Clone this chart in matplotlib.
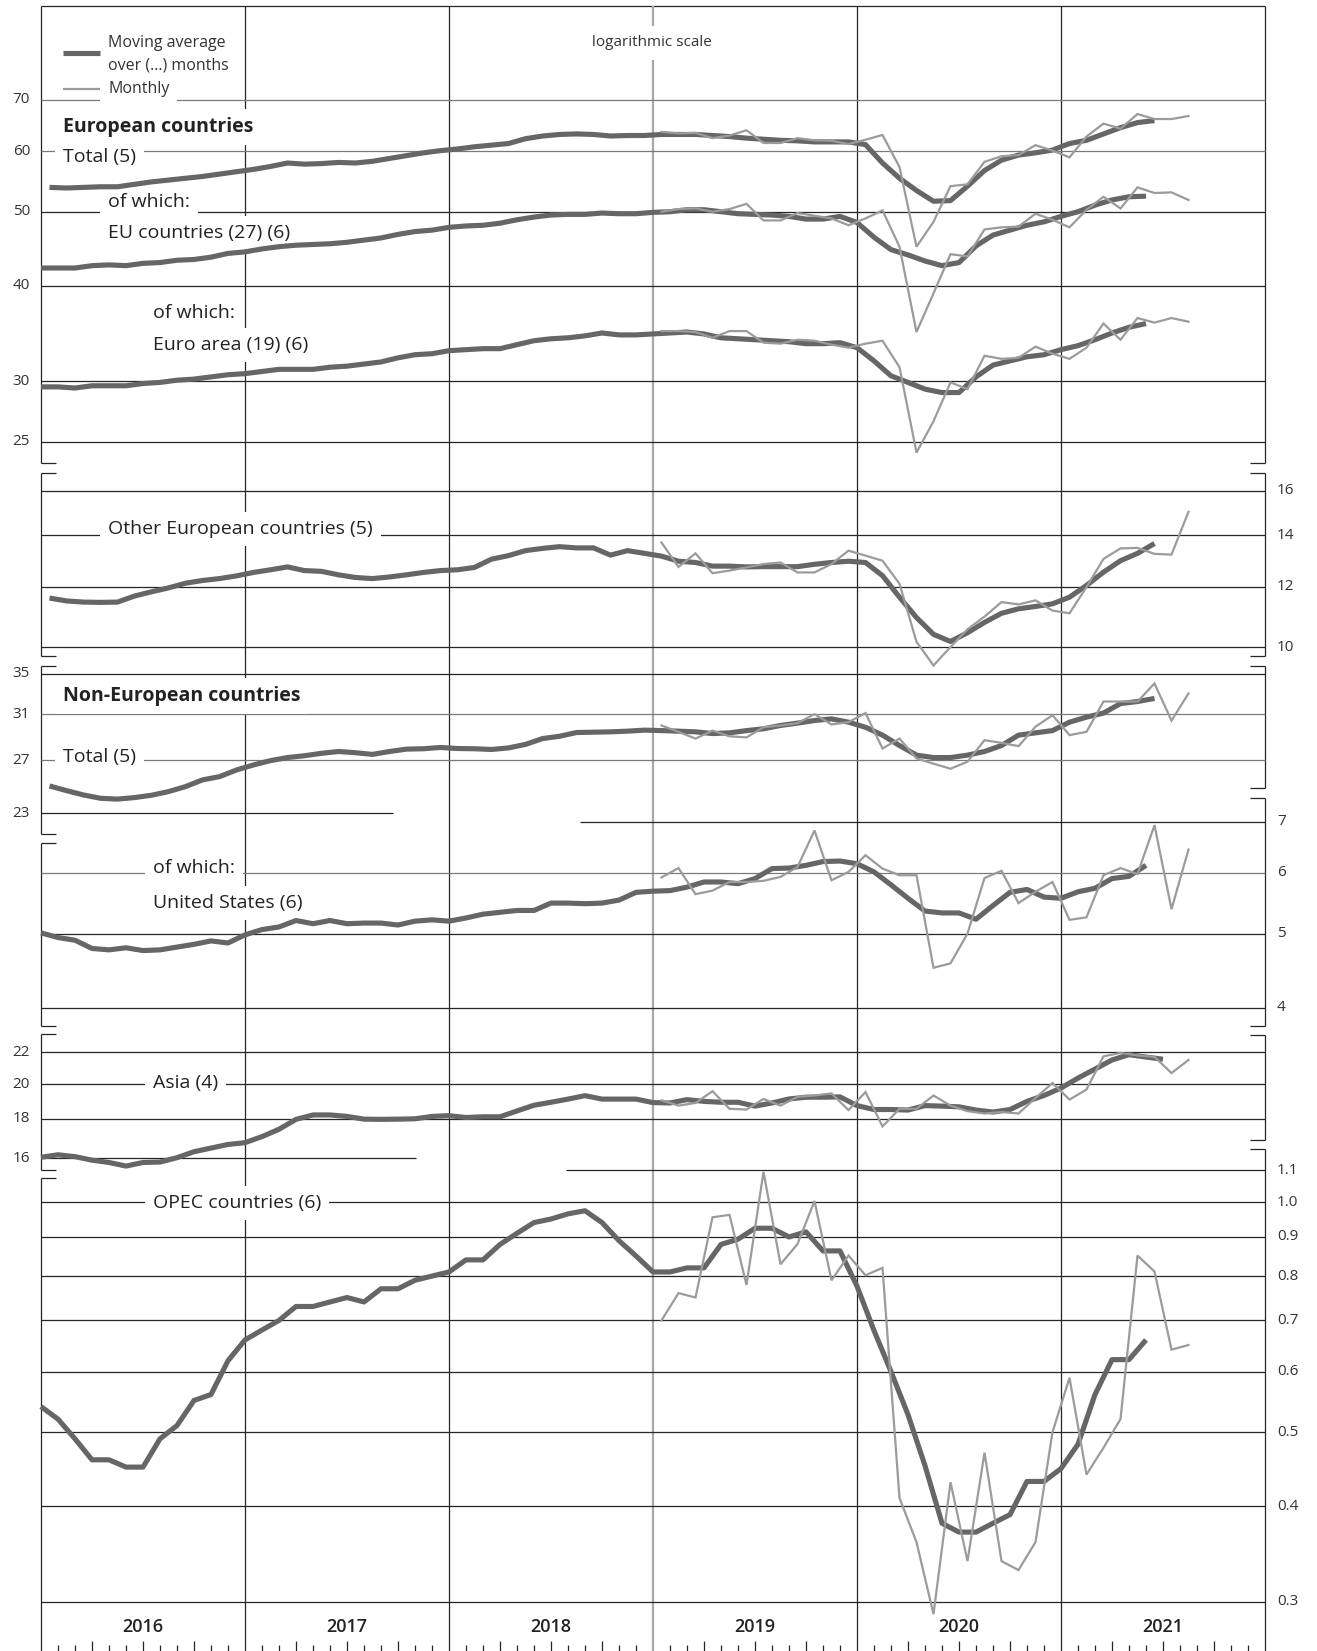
import numpy as np
import matplotlib
matplotlib.use("Agg")
import matplotlib.pyplot as plt
from matplotlib.transforms import blended_transform_factory

plt.rcParams['font.family'] = ['Open Sans', 'DejaVu Sans']

# ---------------- data ----------------
YEARS = ["2016", "2017", "2018", "2019", "2020", "2021"]

# European countries, total: moving average over 5 months (Jan 2016 - Jun 2021)
EUR_TOTAL_MA = [53.8, 53.7, 53.8, 53.9, 53.9, 54.3, 54.7, 55.0, 55.3, 55.6, 56.0, 56.4,
                56.8, 57.3, 57.9, 57.7, 57.8, 58.0, 57.9, 58.2, 58.7, 59.2, 59.7, 60.1,
                60.4, 60.8, 61.1, 61.4, 62.3, 62.8, 63.1, 63.2, 63.1, 62.8, 62.9, 62.9,
                63.1, 63.1, 63.1, 62.9, 62.7, 62.4, 62.2, 62.0, 61.9, 61.7, 61.7, 61.7,
                61.2, 57.9, 55.3, 53.3, 51.6, 51.7, 54.0, 56.6, 58.4, 59.3, 59.7, 60.2,
                61.4, 62.0, 63.2, 64.4, 65.4, 65.8]
# monthly values Jan 2019 - Aug 2021
EUR_TOTAL_M = [63.6, 63.3, 63.4, 62.4, 62.9, 63.9, 61.5, 61.5, 62.4, 62.0, 61.9, 61.3,
               62.1, 63.0, 57.2, 45.0, 48.5, 54.0, 54.3, 58.1, 59.1, 59.3, 61.1, 60.1,
               58.9, 62.7, 65.2, 64.2, 67.1, 66.1, 66.1, 66.7]

# EU countries (27): moving average over 6 months
EU_MA = [42.2, 42.2, 42.2, 42.5, 42.6, 42.5, 42.8, 42.9, 43.2, 43.3, 43.6, 44.1,
         44.3, 44.7, 45.0, 45.2, 45.3, 45.4, 45.6, 45.9, 46.2, 46.7, 47.1, 47.3,
         47.7, 47.9, 48.0, 48.3, 48.8, 49.2, 49.5, 49.6, 49.6, 49.8, 49.7, 49.7,
         49.9, 50.0, 50.3, 50.3, 50.0, 49.7, 49.6, 49.5, 49.3, 48.9, 48.9, 49.3,
         48.4, 46.3, 44.6, 43.9, 43.1, 42.5, 42.9, 45.1, 46.6, 47.3, 48.0, 48.5,
         49.3, 50.0, 51.0, 51.8, 52.3, 52.4]
EU_M = [50.0, 50.4, 50.5, 50.0, 50.4, 51.2, 48.7, 48.7, 49.8, 49.4, 49.0, 48.0,
        49.0, 50.2, 45.0, 34.8, 39.1, 44.0, 43.7, 47.4, 47.7, 47.8, 49.7, 48.8,
        47.7, 50.3, 52.3, 50.5, 53.8, 52.9, 53.0, 51.8]

# Euro area (19): moving average over 6 months
EA_MA = [29.5, 29.5, 29.4, 29.6, 29.6, 29.6, 29.8, 29.9, 30.1, 30.2, 30.4, 30.6,
         30.7, 30.9, 31.1, 31.1, 31.1, 31.3, 31.4, 31.6, 31.8, 32.2, 32.5, 32.6,
         32.9, 33.0, 33.1, 33.1, 33.5, 33.9, 34.1, 34.2, 34.4, 34.7, 34.5, 34.5,
         34.6, 34.7, 34.8, 34.6, 34.2, 34.1, 34.0, 33.9, 33.8, 33.6, 33.6, 33.7,
         33.2, 31.9, 30.5, 29.9, 29.3, 29.0, 29.0, 30.4, 31.5, 31.9, 32.3, 32.5,
         33.0, 33.4, 34.0, 34.7, 35.3, 35.7]
EA_M = [34.9, 34.9, 34.8, 34.2, 34.9, 34.9, 33.7, 33.6, 34.0, 33.9, 33.5, 33.2,
        33.6, 33.9, 31.3, 24.2, 26.6, 29.9, 29.3, 32.4, 32.1, 32.2, 33.3, 32.6,
        32.1, 33.2, 35.7, 34.0, 36.3, 35.8, 36.3, 35.9]

# Other European countries: moving average over 5 months
OTH_MA = [11.59, 11.49, 11.45, 11.44, 11.45, 11.66, 11.81, 11.95, 12.12, 12.22, 12.29, 12.39,
          12.52, 12.62, 12.73, 12.59, 12.56, 12.43, 12.33, 12.29, 12.35, 12.43, 12.52, 12.59,
          12.62, 12.71, 13.03, 13.17, 13.37, 13.46, 13.53, 13.48, 13.48, 13.19, 13.37, 13.26,
          13.15, 12.95, 12.90, 12.76, 12.76, 12.73, 12.74, 12.74, 12.74, 12.83, 12.90, 12.95,
          12.90, 12.40, 11.62, 10.93, 10.39, 10.17, 10.44, 10.77, 11.07, 11.22, 11.30, 11.39,
          11.62, 12.04, 12.53, 12.97, 13.26, 13.66]
OTH_M = [13.70, 12.73, 13.26, 12.49, 12.59, 12.71, 12.84, 12.90, 12.52, 12.52, 12.84, 13.37,
         13.17, 12.97, 12.10, 10.16, 9.46, 10.00, 10.55, 10.96, 11.45, 11.37, 11.51, 11.16,
         11.07, 11.98, 13.04, 13.46, 13.48, 13.24, 13.21, 15.03]

# Non-European countries, total: moving average over 5 months
NEU_MA = [24.97, 24.62, 24.30, 24.06, 24.00, 24.11, 24.28, 24.55, 24.92, 25.43, 25.68, 26.20,
          26.60, 26.95, 27.20, 27.35, 27.55, 27.70, 27.60, 27.46, 27.70, 27.90, 27.93, 28.04,
          27.95, 27.93, 27.87, 28.00, 28.30, 28.80, 29.00, 29.33, 29.36, 29.39, 29.45, 29.54,
          29.50, 29.45, 29.39, 29.24, 29.30, 29.50, 29.66, 29.96, 30.17, 30.41, 30.56, 30.26,
          29.80, 29.10, 28.20, 27.40, 27.20, 27.20, 27.40, 27.70, 28.20, 29.10, 29.30, 29.50,
          30.26, 30.72, 31.10, 32.00, 32.20, 32.50]
NEU_M = [29.96, 29.39, 28.80, 29.50, 29.00, 28.90, 29.80, 29.96, 30.17, 31.00, 30.05, 30.26,
         31.10, 27.95, 28.80, 27.13, 26.70, 26.30, 26.86, 28.66, 28.43, 28.15, 29.85, 30.90,
         29.10, 29.39, 32.20, 32.20, 32.20, 34.00, 30.40, 33.00]

# United States: moving average over 6 months
US_MA = [5.01, 4.94, 4.90, 4.78, 4.76, 4.79, 4.75, 4.76, 4.80, 4.84, 4.89, 4.86,
         4.98, 5.06, 5.10, 5.20, 5.15, 5.20, 5.15, 5.16, 5.16, 5.13, 5.19, 5.21,
         5.19, 5.24, 5.30, 5.33, 5.36, 5.36, 5.48, 5.48, 5.47, 5.48, 5.53, 5.66,
         5.68, 5.69, 5.75, 5.84, 5.84, 5.81, 5.90, 6.08, 6.09, 6.14, 6.21, 6.22,
         6.17, 6.02, 5.79, 5.56, 5.35, 5.32, 5.32, 5.22, 5.44, 5.66, 5.71, 5.58,
         5.56, 5.67, 5.73, 5.90, 5.94, 6.14]
US_M = [5.92, 6.09, 5.63, 5.69, 5.84, 5.84, 5.86, 5.93, 6.11, 6.82, 5.87, 6.02,
        6.33, 6.08, 5.96, 5.96, 4.51, 4.57, 5.00, 5.91, 6.04, 5.48, 5.67, 5.84,
        5.21, 5.25, 5.96, 6.09, 5.98, 6.93, 5.38, 6.44]

# Asia: moving average over 4 months
ASIA_MA = [16.04, 16.16, 16.07, 15.90, 15.79, 15.62, 15.79, 15.81, 16.02, 16.31, 16.49, 16.67,
           16.76, 17.07, 17.45, 17.98, 18.22, 18.22, 18.14, 17.99, 17.98, 17.99, 18.01, 18.14,
           18.18, 18.08, 18.12, 18.12, 18.44, 18.76, 18.93, 19.11, 19.31, 19.11, 19.11, 19.11,
           18.91, 18.89, 19.08, 18.98, 18.93, 18.93, 18.71, 18.89, 19.12, 19.22, 19.22, 19.24,
           18.74, 18.52, 18.52, 18.49, 18.74, 18.71, 18.67, 18.49, 18.38, 18.52, 18.98, 19.32,
           19.76, 20.36, 20.92, 21.50, 21.85, 21.69, 21.55]
ASIA_M = [19.04, 18.74, 18.89, 19.57, 18.56, 18.52, 19.12, 18.74, 19.24, 19.32, 19.44, 18.49,
          19.52, 17.60, 18.56, 18.56, 19.32, 18.74, 18.43, 18.30, 18.38, 18.30, 19.17, 20.06,
          19.08, 19.67, 21.74, 21.96, 21.80, 21.70, 20.67, 21.50]

# OPEC countries: moving average over 6 months
OPEC_MA = [0.54, 0.52, 0.49, 0.46, 0.46, 0.45, 0.45, 0.49, 0.51, 0.55, 0.56, 0.62,
           0.66, 0.68, 0.70, 0.73, 0.73, 0.74, 0.75, 0.74, 0.77, 0.77, 0.79, 0.80,
           0.81, 0.84, 0.84, 0.88, 0.91, 0.94, 0.95, 0.965, 0.974, 0.94, 0.89, 0.85,
           0.81, 0.81, 0.82, 0.82, 0.88, 0.894, 0.924, 0.924, 0.90, 0.914, 0.863, 0.863,
           0.776, 0.679, 0.60, 0.527, 0.452, 0.38, 0.37, 0.37, 0.38, 0.39, 0.431, 0.431,
           0.448, 0.482, 0.56, 0.622, 0.622, 0.66]
OPEC_M = [0.70, 0.76, 0.75, 0.955, 0.962, 0.779, 1.095, 0.829, 0.881, 1.003, 0.790, 0.851,
          0.802, 0.820, 0.410, 0.359, 0.289, 0.430, 0.339, 0.470, 0.339, 0.330, 0.359, 0.500,
          0.589, 0.440, 0.477, 0.520, 0.851, 0.811, 0.641, 0.650]

MONTHLY_START = 36          # Jan 2019 (months since Jan 2016)

# ---------------- layout ----------------
W, H = 1317, 1651
fig = plt.figure(figsize=(W / 100, H / 100), dpi=100)
X0, X1 = 41, 1265          # plot area in pixels
Y_TOP, Y_BOT = 6, 1601
K = 332.0                  # pixels per unit of ln(value)
PX_PER_MONTH = (X1 - X0) / 72.0

GRID = '#262626'
GREYLINE = '#7a7a7a'
MA_C = '#666666'
MON_C = '#9b9b9b'
TXT = '#222222'

ov = fig.add_axes([0, 0, 1, 1], zorder=0)
ov.set_xlim(0, W)
ov.set_ylim(H, 0)
ov.axis('off')

rect = [X0 / W, 1 - Y_BOT / H, (X1 - X0) / W, (Y_BOT - Y_TOP) / H]


def panel(ref_val, ref_px, z):
    ax = fig.add_axes(rect, zorder=z)
    ax.set_yscale('log')
    ax.set_xlim(0, 72)
    ax.set_ylim(ref_val * np.exp(-(Y_BOT - ref_px) / K),
                ref_val * np.exp((ref_px - Y_TOP) / K))
    ax.axis('off')
    ax.patch.set_visible(False)
    return ax


def mth(px):
    return (px - X0) / PX_PER_MONTH


def grid(ax, specs):
    for v, a, b, c in specs:
        ax.hlines(v, a, b, colors=c, lw=0.9, zorder=1, clip_on=False)


def ticklabels(ax, vals, labels, side):
    tr = blended_transform_factory(ov.transData, ax.transData)
    for v, s in zip(vals, labels):
        if side == 'left':
            ax.text(30, v, s, transform=tr, ha='right', va='center', fontsize=11, color='#333333')
        else:
            ax.text(1277, v, s, transform=tr, ha='left', va='center', fontsize=11, color='#333333')


def label(ax, x, y, s, bold=False, size=14):
    ax.text(x, y, s, transform=ov.transData, ha='left', va='center', fontsize=size,
            color=TXT, fontweight='bold' if bold else 'normal', zorder=2,
            bbox=dict(boxstyle='square,pad=0.42', fc='white', ec='none'))


def series(ax, ma, offset, monthly):
    xm = np.arange(len(ma)) + offset
    ax.plot(xm, ma, color=MA_C, lw=3.7, zorder=4, clip_on=False,
            solid_joinstyle='round', solid_capstyle='butt')
    if monthly is not None:
        xk = np.arange(len(monthly)) + MONTHLY_START + 0.5
        ax.plot(xk, monthly, color=MON_C, lw=1.6, zorder=5, clip_on=False,
                solid_joinstyle='miter')


# ---------------- overlay: frame, year lines, ticks ----------------
ov.hlines(Y_TOP, X0, X1, colors=GRID, lw=0.9)
left_segs = [(Y_TOP, 463), (473, 656), (666, 834), (843, 1026), (1034, 1170), (1178, H)]
right_segs = [(Y_TOP, 463), (473, 656), (666, 788), (798, 1026), (1035, 1140), (1149, H)]
for (a, b) in left_segs:
    ov.vlines(X0, a, b, colors=GRID, lw=0.9)
for (a, b) in right_segs:
    ov.vlines(X1, a, b, colors=GRID, lw=0.9)
for (a, b) in left_segs:
    if a != Y_TOP:
        ov.hlines(a, X0, X0 + 15, colors=GRID, lw=0.9)
    if b != H:
        ov.hlines(b, X0, X0 + 15, colors=GRID, lw=0.9)
for (a, b) in right_segs:
    if a != Y_TOP:
        ov.hlines(a, X1 - 15, X1, colors=GRID, lw=0.9)
    if b != H:
        ov.hlines(b, X1 - 15, X1, colors=GRID, lw=0.9)

for i in range(1, 6):
    xx = X0 + 12 * i * PX_PER_MONTH
    if i == 3:
        ov.vlines(xx, Y_TOP, H, colors='#a8a8a8', lw=1.6)
    else:
        ov.vlines(xx, Y_TOP, H, colors=GRID, lw=0.9)

for m in range(72):
    if m % 12 == 0:
        continue
    xx = X0 + m * PX_PER_MONTH
    top = 1641 if m % 3 == 0 else 1645
    ov.vlines(xx, top, H, colors=GRID, lw=0.9)

for i, y in enumerate(YEARS):
    ov.text(X0 + (12 * i + 6) * PX_PER_MONTH, 1627, y, ha='center', va='center',
            fontsize=13, fontweight='semibold', color=TXT)

# ---------------- panel 1: European countries ----------------
p1 = panel(70, 100, 1)
grid(p1, [(70, 0, 72, GREYLINE), (60, 0, 72, GREYLINE), (50, 0, 72, GRID),
          (40, 0, 72, GRID), (30, 0, 72, GRID), (25, 0, 72, GRID)])
ticklabels(p1, [70, 60, 50, 40, 30, 25], ['70', '60', '50', '40', '30', '25'], 'left')
ov.plot([63, 100], [53, 53], color=MA_C, lw=3.7, solid_capstyle='butt')
ov.plot([63, 100], [89, 89], color=MON_C, lw=1.6, solid_capstyle='butt')
p1.text(108, 43, 'Moving average', transform=ov.transData, ha='left', va='center',
        fontsize=11.5, color='#333333', zorder=2)
p1.text(108, 66, 'over (...) months', transform=ov.transData, ha='left', va='center',
        fontsize=11.5, color='#333333', zorder=2)
p1.text(108, 89, 'Monthly', transform=ov.transData, ha='left', va='center',
        fontsize=11.5, color='#333333', zorder=2,
        bbox=dict(boxstyle='square,pad=0.5', fc='white', ec='none'))
p1.text(652, 43, 'logarithmic scale', transform=ov.transData, ha='center', va='center',
        fontsize=11, color='#333333', zorder=2,
        bbox=dict(boxstyle='square,pad=0.6', fc='white', ec='none'))
label(p1, 63, 127, 'European countries', bold=True)
label(p1, 63, 157, 'Total (5)')
label(p1, 108, 202, 'of which:')
label(p1, 108, 233, 'EU countries (27) (6)')
label(p1, 153, 313, 'of which:')
label(p1, 153, 345, 'Euro area (19) (6)')
series(p1, EUR_TOTAL_MA, 0.5, EUR_TOTAL_M)
series(p1, EU_MA, 0.0, EU_M)
series(p1, EA_MA, 0.0, EA_M)

# ---------------- panel 2: Other European countries ----------------
p2 = panel(16, 491, 2)
grid(p2, [(16, 0, 72, GRID), (14, 0, 72, GRID), (12, 0, 72, GRID), (10, 0, 72, GRID)])
ticklabels(p2, [16, 14, 12, 10], ['16', '14', '12', '10'], 'right')
label(p2, 108, 529, 'Other European countries (5)')
series(p2, OTH_MA, 0.5, OTH_M)

# ---------------- panel 3: Non-European countries ----------------
p3 = panel(27, 760, 3)
grid(p3, [(35, 0, 72, GRID), (31, 0, 72, GREYLINE), (27, 0, 72, GREYLINE),
          (23, 0, mth(393), GRID)])
ticklabels(p3, [35, 31, 27, 23], ['35', '31', '27', '23'], 'left')
label(p3, 63, 696, 'Non-European countries', bold=True)
label(p3, 63, 757, 'Total (5)')
series(p3, NEU_MA, 0.5, NEU_M)

# ---------------- panel 4: United States ----------------
p4 = panel(6, 873, 4)
grid(p4, [(7, mth(580), 72, GRID), (6, 0, 72, GREYLINE), (5, 0, 72, GRID), (4, 0, 72, GRID)])
ticklabels(p4, [7, 6, 5, 4], ['7', '6', '5', '4'], 'right')
label(p4, 153, 868, 'of which:')
label(p4, 153, 903, 'United States (6)')
series(p4, US_MA, 0.0, US_M)

# ---------------- panel 5: Asia ----------------
p5 = panel(20, 1084, 5)
grid(p5, [(22, 0, 72, GRID), (20, 0, 72, GRID), (18, 0, 72, GRID), (16, 0, mth(416), GRID)])
ticklabels(p5, [22, 20, 18, 16], ['22', '20', '18', '16'], 'left')
label(p5, 153, 1083, 'Asia (4)')
series(p5, ASIA_MA, 0.0, ASIA_M)

# ---------------- panel 6: OPEC countries ----------------
p6 = panel(1.0, 1202, 6)
opec_ticks = [1.1, 1.0, 0.9, 0.8, 0.7, 0.6, 0.5, 0.4, 0.3]
grid(p6, [(1.1, mth(566), 72, GRID)] + [(v, 0, 72, GRID) for v in opec_ticks[1:]])
ticklabels(p6, opec_ticks, ['1.1', '1.0', '0.9', '0.8', '0.7', '0.6', '0.5', '0.4', '0.3'], 'right')
label(p6, 153, 1203, 'OPEC countries (6)')
series(p6, OPEC_MA, 0.0, OPEC_M)

fig.savefig('out.png', dpi=100)
